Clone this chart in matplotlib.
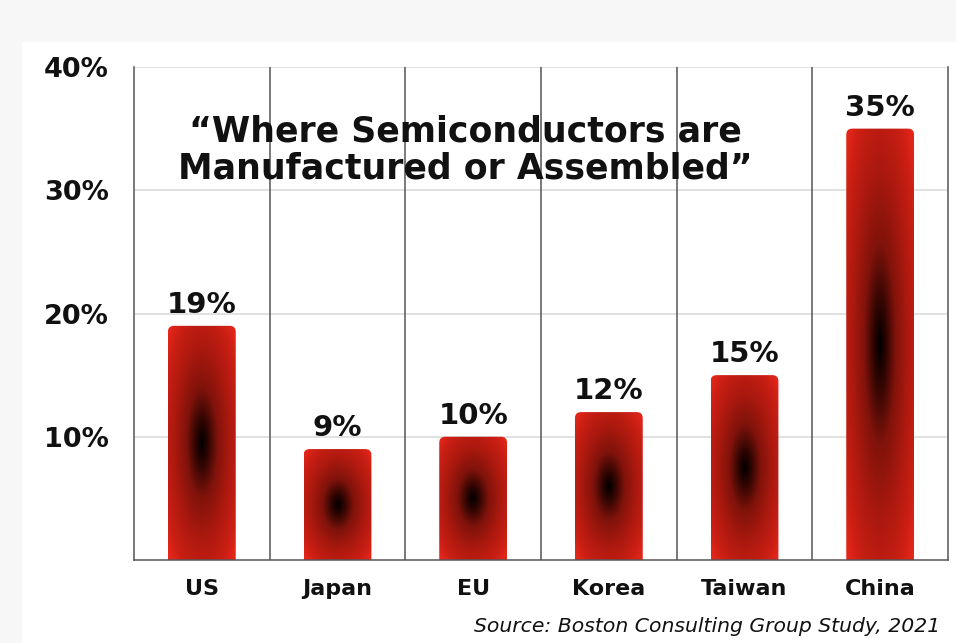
import matplotlib.pyplot as plt
import numpy as np
from matplotlib.colors import LinearSegmentedColormap
from matplotlib.patches import FancyBboxPatch, Rectangle

countries = ["US", "Japan", "EU", "Korea", "Taiwan", "China"]
shares = [19, 9, 10, 12, 15, 35]
yticks = [10, 20, 30, 40]
ytick_labels = ["10%", "20%", "30%", "40%"]
title = "\u201cWhere Semiconductors are\nManufactured or Assembled\u201d"
source = "Source: Boston Consulting Group Study, 2021"

plt.rcParams['font.family'] = ['DejaVu Sans']

fig = plt.figure(figsize=(9.56, 6.43), dpi=100, facecolor="#f7f7f7")
# white card on the light grey page
fig.patches.append(Rectangle((22 / 956, 0), 1, 1 - 42 / 643, transform=fig.transFigure,
                             facecolor="white", edgecolor="none", zorder=-10))
ax = fig.add_axes([134 / 956, 83 / 643, 814 / 956, 493 / 643])
ax.set_facecolor("none")

ax.set_xlim(-0.5, len(countries) - 0.5)
ax.set_ylim(0, 40)

# gradient: small black core, dark red body, bright red rim
cmap = LinearSegmentedColormap.from_list("glow", [
    (0.0, "#000000"), (0.13, "#2e0502"), (0.33, "#80130b"),
    (0.58, "#ac190f"), (0.82, "#cb1f14"), (1.0, "#ec281c")])

bar_w = 0.5
px_x = 814 / len(countries)
px_y = 493 / 40
aspect = (1 / px_y) / (1 / px_x)
bars = ax.bar(range(len(countries)), shares, width=bar_w, color="none", zorder=1)

gx = np.linspace(-1, 1, 200)
gy = np.linspace(-1, 1, 400)
X, Y = np.meshgrid(gx, gy)
dist = np.clip(np.sqrt(X ** 2 + Y ** 2) / np.sqrt(2), 0, 1)

for b, v in zip(bars, shares):
    x0 = b.get_x()
    w = b.get_width()
    patch = FancyBboxPatch((x0, -2), w, v + 2,
                           boxstyle="round,pad=0,rounding_size=%f" % (6 / px_x),
                           mutation_aspect=aspect, transform=ax.transData,
                           facecolor="none", edgecolor="none")
    ax.add_patch(patch)
    im = ax.imshow(dist, cmap=cmap, vmin=0, vmax=1, extent=(x0, x0 + w, 0, v),
                   origin="lower", aspect="auto", interpolation="bilinear", zorder=2)
    im.set_clip_path(patch)
    ax.annotate("%d%%" % v, (x0 + w / 2, v), xytext=(0, 5),
                textcoords="offset points", ha="center", va="bottom",
                fontsize=21, fontweight="bold", color="#111111")

ax.set_aspect("auto")
ax.set_xlim(-0.5, len(countries) - 0.5)
ax.set_ylim(0, 40)

# grid
for t in yticks:
    ax.axhline(t, color="#dcdcdc", lw=1.2, zorder=0.5)
for i in range(1, len(countries)):
    ax.axvline(i - 0.5, color="#555555", lw=1.1, zorder=0.6)

for s in ["left", "right", "bottom"]:
    ax.spines[s].set_color("#555555")
    ax.spines[s].set_linewidth(1.1)
ax.spines["top"].set_visible(False)

ax.set_yticks(yticks)
ax.set_yticklabels(ytick_labels, fontsize=19.5, fontweight="bold", color="#111111")
ax.set_xticks(range(len(countries)))
ax.set_xticklabels(countries, fontsize=16, fontweight="bold", color="#111111")
ax.tick_params(axis="y", length=0, pad=18)
ax.tick_params(axis="x", length=0, pad=14)

ax.text(0.407, 0.832, title, transform=ax.transAxes, ha="center", va="center",
        fontsize=25, fontweight="bold", color="#111111", linespacing=1.12, zorder=3)

fig.text(940 / 956, 1 - 627 / 643, source, ha="right", va="center",
         fontsize=14.7, style="italic", color="#111111")

fig.savefig("out.png", dpi=100, facecolor=fig.get_facecolor())
